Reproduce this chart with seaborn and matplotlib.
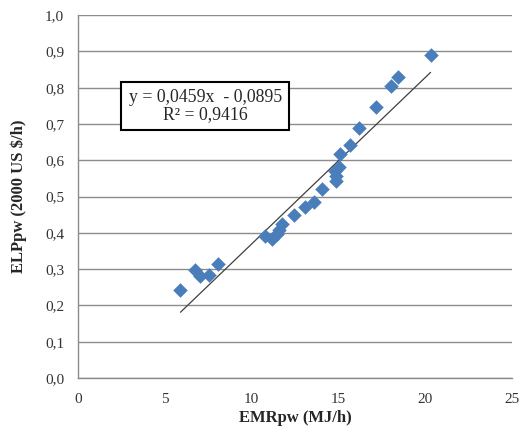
import matplotlib
matplotlib.use("Agg")
import matplotlib.pyplot as plt
import seaborn as sns
import numpy as np
import pandas as pd

emr = [5.9, 6.75, 7.0, 7.55, 8.05, 10.75, 11.15, 11.45, 11.6, 11.75, 12.45,
       13.05, 13.6, 14.05, 14.85, 14.85, 14.8, 15.05, 15.1, 15.65, 16.2,
       17.15, 18.0, 18.4, 20.3]
elp = [0.242, 0.297, 0.28, 0.284, 0.313, 0.391, 0.382, 0.396, 0.408, 0.424, 0.448,
       0.471, 0.486, 0.522, 0.542, 0.556, 0.570, 0.581, 0.616, 0.641, 0.690,
       0.748, 0.804, 0.830, 0.890]
slope = 0.0459
intercept = -0.0895
x_ticks = [0, 5, 10, 15, 20, 25]
y_ticks = [0.0, 0.1, 0.2, 0.3, 0.4, 0.5, 0.6, 0.7, 0.8, 0.9, 1.0]
y_tick_labels = ["0,0", "0,1", "0,2", "0,3", "0,4", "0,5", "0,6", "0,7", "0,8", "0,9", "1,0"]
eq_text = "y = 0,0459x  - 0,0895\nR² = 0,9416"
x_label = "EMRpw (MJ/h)"
y_label = "ELPpw (2000 US $/h)"

df = pd.DataFrame({"EMR": emr, "ELP": elp})

sns.set_style("white")
plt.rcParams["font.family"] = ["Liberation Serif", "DejaVu Serif"]

fig = plt.figure(figsize=(5.2, 4.33), dpi=100)
ax = fig.add_axes([0.15, 0.127, 0.835, 0.838])

ax.set_xlim(0, 25)
ax.set_ylim(0, 1.0)
ax.set_yticks(y_ticks)
ax.set_yticklabels(y_tick_labels)
ax.set_xticks(x_ticks)
ax.yaxis.grid(True, color="#8c8c8c", linewidth=1.0)
ax.xaxis.grid(False)
ax.set_axisbelow(True)

xs = np.array([min(emr), max(emr)])
ax.plot(xs, slope * xs + intercept, color="#404040", linewidth=0.9, zorder=2)

sns.scatterplot(data=df, x="EMR", y="ELP", marker="D", s=55, color="#4A7EBB",
                edgecolor="#4A7EBB", linewidth=0, ax=ax, zorder=3)

for side in ["top", "right"]:
    ax.spines[side].set_visible(False)
for side in ["left", "bottom"]:
    ax.spines[side].set_color("#8c8c8c")
    ax.spines[side].set_linewidth(1.0)

ax.tick_params(axis="both", which="major", direction="out", length=5, width=1,
               color="#8c8c8c", labelsize=11, labelcolor="#333333")
ax.tick_params(axis="y", pad=5)
ax.tick_params(axis="x", pad=6)

ax.set_xlabel(x_label, fontsize=12, fontweight="bold", labelpad=3)
ax.set_ylabel(y_label, fontsize=12, fontweight="bold", labelpad=13)

ax.text(0.293, 0.749, eq_text, transform=ax.transAxes, ha="center", va="center",
        fontsize=12.8, linespacing=1.0,
        bbox=dict(boxstyle="square,pad=0.4", facecolor="white", edgecolor="black", linewidth=1.5))

fig.savefig("out.png", dpi=100)
